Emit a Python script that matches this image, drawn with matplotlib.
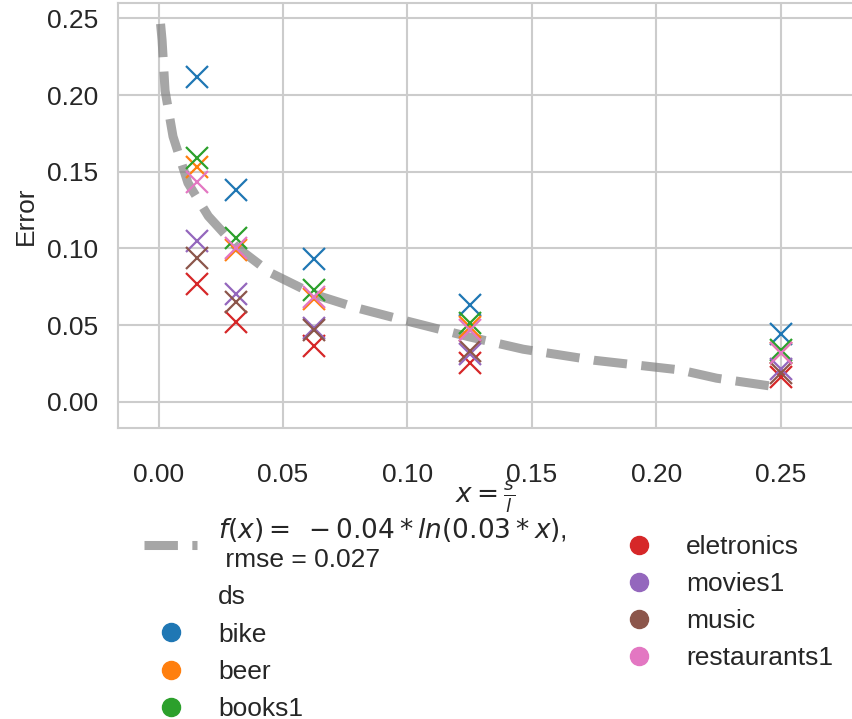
import matplotlib
matplotlib.use('Agg')
import matplotlib.pyplot as plt
import seaborn as sns
from matplotlib.lines import Line2D

sns.set_style('whitegrid')
plt.rcParams['font.family'] = ['Liberation Sans', 'DejaVu Sans']

# ratio s/l used in the experiments
x_vals = [0.015625, 0.03125, 0.0625, 0.125, 0.25]

# error per dataset
datasets = ['bike', 'beer', 'books1', 'eletronics', 'movies1', 'music', 'restaurants1']
err_bike = [0.212, 0.138, 0.093, 0.063, 0.044]
err_beer = [0.153, 0.099, 0.067, 0.049, 0.032]
err_books1 = [0.159, 0.107, 0.073, 0.051, 0.034]
err_eletronics = [0.077, 0.052, 0.036, 0.025, 0.016]
err_movies1 = [0.105, 0.070, 0.048, 0.031, 0.021]
err_music = [0.094, 0.065, 0.047, 0.033, 0.019]
err_restaurants1 = [0.143, 0.100, 0.068, 0.047, 0.032]
errors = [err_bike, err_beer, err_books1, err_eletronics, err_movies1, err_music, err_restaurants1]
colors = ['#1f77b4', '#ff7f0e', '#2ca02c', '#d62728', '#9467bd', '#8c564b', '#e377c2']

# fitted curve, points
fit_x = [0.0008, 0.0014, 0.0026, 0.0058, 0.0118, 0.02, 0.03125, 0.045, 0.0625,
         0.08, 0.1, 0.125, 0.1465, 0.175, 0.2094, 0.2242, 0.25]
fit_y = [0.2465, 0.236, 0.203, 0.173, 0.1427, 0.121, 0.101, 0.084, 0.070,
         0.061, 0.0525, 0.0422, 0.0342, 0.027, 0.0207, 0.0153, 0.0092]
fit_label = r'$f(x) =\; -0.04 * ln(0.03 * x)$,' + '\n rmse = 0.027'

fig = plt.figure(figsize=(8.52, 7.19), dpi=100)
ax = fig.add_axes([0.1385, 0.4043, 0.8627, 0.5911])

fit_line, = ax.plot(fit_x, fit_y, linestyle='--', color='grey', alpha=0.7,
                    linewidth=6.5, label=fit_label, zorder=2)

for name, ys, c in zip(datasets, errors, colors):
    ax.plot(x_vals, ys, linestyle='none', marker='x', markersize=16.5,
            markeredgewidth=1.6, color=c, zorder=3)

ax.set_xlim(-0.0163, 0.279)
ax.set_ylim(-0.0174, 0.2599)
ax.set_xticks([0.0, 0.05, 0.10, 0.15, 0.20, 0.25])
ax.set_yticks([0.0, 0.05, 0.10, 0.15, 0.20, 0.25])
ax.xaxis.set_major_formatter(plt.FormatStrFormatter('%.2f'))
ax.yaxis.set_major_formatter(plt.FormatStrFormatter('%.2f'))

for sp in ax.spines.values():
    sp.set_color('.8')
    sp.set_linewidth(1.5)
ax.grid(True, color='.8', linewidth=1.5)
ax.tick_params(axis='both', labelsize=19, colors='.15', length=0)
ax.tick_params(axis='x', pad=25)
ax.tick_params(axis='y', pad=14)

ax.set_ylabel('Error', fontsize=19, color='.15', labelpad=7)
ax.set_xlabel(r'$x = \frac{s}{l}$', fontsize=19, color='.15')
ax.xaxis.set_label_coords(0.5, -0.118)

# legend: fitted line, "ds" title row, then one circle per dataset
handles = [fit_line, Line2D([], [], linestyle='none', marker=None)]
labels = [fit_label, 'ds']
for name, c in zip(datasets, colors):
    handles.append(Line2D([], [], linestyle='none', marker='o', markersize=13,
                          color=c))
    labels.append(name)

fig.legend(handles, labels, loc='upper left', bbox_to_anchor=(0.1414, 0.3147),
           ncol=2, frameon=False, fontsize=19, labelcolor='.15',
           columnspacing=1.72)

fig.savefig('out.png', dpi=100)
